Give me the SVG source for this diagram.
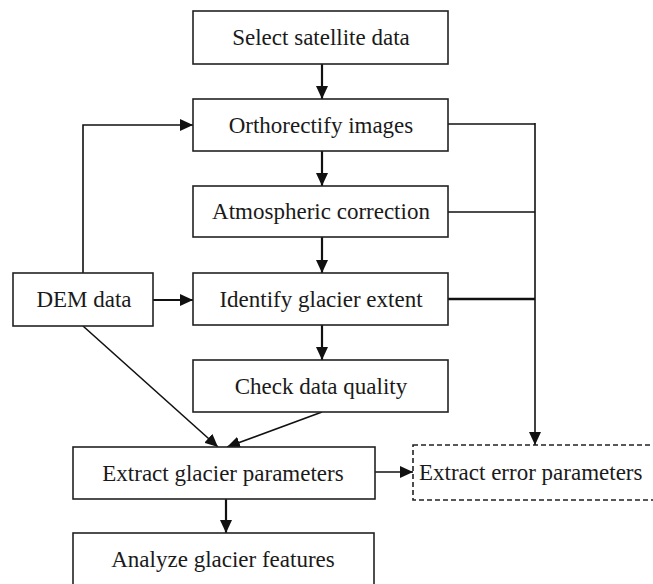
<svg xmlns="http://www.w3.org/2000/svg" width="653" height="584" viewBox="0 0 653 584">
<style>
.box{fill:#fff;stroke:#222;stroke-width:1.6}
.dash{fill:#fff;stroke:#222;stroke-width:1.6;stroke-dasharray:5,3}
.t{font-family:"Liberation Serif","Times New Roman",serif;font-size:23px;fill:#1a1a1a;text-anchor:middle}
.c{fill:none;stroke:#111;stroke-width:1.6}
.a{fill:none;stroke:#111;stroke-width:2.2}
</style>
<defs>
<marker id="ah" viewBox="0 0 10 10" refX="10" refY="5" markerWidth="13" markerHeight="12" markerUnits="userSpaceOnUse" orient="auto" preserveAspectRatio="none">
<path d="M0,0 L10,5 L0,10 z" fill="#111"/>
</marker>
</defs>
<rect width="653" height="584" fill="#fff"/>
<g id="connectors">
<line class="a" x1="322" y1="64" x2="322" y2="99" marker-end="url(#ah)"/>
<line class="a" x1="322" y1="151" x2="322" y2="186" marker-end="url(#ah)"/>
<line class="a" x1="322" y1="237" x2="322" y2="273" marker-end="url(#ah)"/>
<line class="a" x1="322" y1="325" x2="322" y2="360" marker-end="url(#ah)"/>
<polyline class="c" points="83,273 83,125 193,125" marker-end="url(#ah)"/>
<line class="a" x1="153" y1="300" x2="193" y2="300" marker-end="url(#ah)"/>
<line class="c" x1="83" y1="326" x2="218" y2="447" marker-end="url(#ah)"/>
<line class="c" x1="322" y1="412" x2="227" y2="447" marker-end="url(#ah)"/>
<line class="a" x1="226" y1="499" x2="226" y2="533" marker-end="url(#ah)"/>
<line class="c" x1="375" y1="472" x2="413" y2="472" marker-end="url(#ah)"/>
<line class="c" x1="448" y1="124" x2="535" y2="124"/>
<line class="c" x1="448" y1="212" x2="535" y2="212"/>
<line class="c" x1="448" y1="299" x2="535" y2="299" style="stroke-width:2.6"/>
<line class="c" x1="535" y1="123" x2="535" y2="445" marker-end="url(#ah)"/>
</g>
<g id="select"><rect class="box" x="193" y="11" width="255" height="53"/><text class="t" x="321" y="45">Select satellite data</text></g>
<g id="ortho"><rect class="box" x="193" y="99" width="255" height="52"/><text class="t" x="321" y="133">Orthorectify images</text></g>
<g id="atmos"><rect class="box" x="193" y="186" width="255" height="51"/><text class="t" x="321" y="219">Atmospheric correction</text></g>
<g id="identify"><rect class="box" x="193" y="273" width="255" height="52"/><text class="t" x="321" y="307">Identify glacier extent</text></g>
<g id="dem"><rect class="box" x="13" y="273" width="140" height="53"/><text class="t" x="84" y="307">DEM data</text></g>
<g id="check"><rect class="box" x="193" y="360" width="255" height="52"/><text class="t" x="321" y="394">Check data quality</text></g>
<g id="extract"><rect class="box" x="73" y="447" width="302" height="52"/><text class="t" x="223" y="481">Extract glacier parameters</text></g>
<g id="error"><rect class="dash" x="413" y="445" width="250" height="55"/><text class="t" x="419" y="480" style="text-anchor:start">Extract error parameters</text></g>
<g id="analyze"><rect class="box" x="73" y="533" width="301" height="60"/><text class="t" x="223" y="567">Analyze glacier features</text></g>
</svg>
